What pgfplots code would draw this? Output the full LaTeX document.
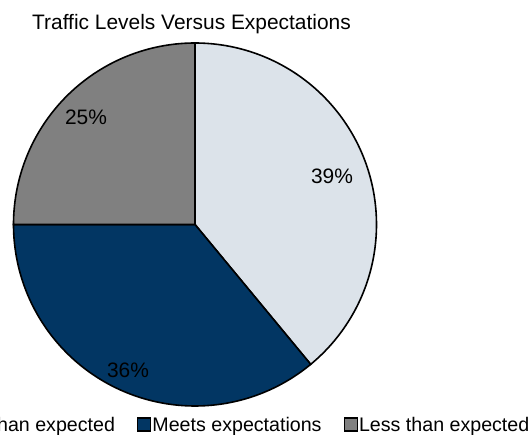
\documentclass[border=0pt]{standalone}
\usepackage{pgfplots}
\usepackage{pgfplotstable}
\pgfplotsset{compat=1.18}
\usepackage{fontspec}
\setmainfont{Liberation Sans}
\definecolor{cMore}{HTML}{DCE3EA}
\definecolor{cMeets}{HTML}{023663}
\definecolor{cLess}{HTML}{808080}
\pgfplotstableread{
label value
More 39
Meets 36
Less 25
}\piedata
\pgfplotstablegetelem{0}{value}\of\piedata \let\vA\pgfplotsretval
\pgfplotstablegetelem{1}{value}\of\piedata \let\vB\pgfplotsretval
\pgfplotstablegetelem{2}{value}\of\piedata \let\vC\pgfplotsretval
\pgfmathsetmacro{\aA}{90}
\pgfmathsetmacro{\aB}{\aA-3.6*\vA}
\pgfmathsetmacro{\aC}{\aB-3.6*\vB}
\pgfmathsetmacro{\aD}{\aC-3.6*\vC}
\begin{document}
\begin{tikzpicture}
\begin{axis}[
  width=531bp, height=435bp, scale only axis,
  xmin=0, xmax=531, ymin=0, ymax=435,
  hide axis, clip=false,
  legend columns=3,
  legend style={draw=none, fill=none, inner sep=0pt, at={(axis cs:530.5,10)}, anchor=east,
    font=\fontsize{19.7}{22}\selectfont, nodes={inner xsep=1bp, inner ysep=0pt},
    /tikz/every even column/.append style={column sep=21bp}},
  legend image code/.code={\draw[#1, line width=1.5bp] (0bp,-6bp) rectangle (13bp,7bp);},
]
\addplot[fill=cMore, draw=black, line width=1.6bp, domain=\aB:\aA, samples=120, variable=\t, forget plot]
  ({195+181.5*cos(\t)}, {210.5+181.5*sin(\t)}) -- (axis cs:195,210.5) -- cycle;
\addplot[fill=cMeets, draw=black, line width=1.6bp, domain=\aC:\aB, samples=120, variable=\t, forget plot]
  ({195+181.5*cos(\t)}, {210.5+181.5*sin(\t)}) -- (axis cs:195,210.5) -- cycle;
\addplot[fill=cLess, draw=black, line width=1.6bp, domain=\aD:\aC, samples=120, variable=\t, forget plot]
  ({195+181.5*cos(\t)}, {210.5+181.5*sin(\t)}) -- (axis cs:195,210.5) -- cycle;
\addlegendimage{fill=cMore, draw=black}
\addlegendentry{More than expected}
\addlegendimage{fill=cMeets, draw=black}
\addlegendentry{Meets expectations}
\addlegendimage{fill=cLess, draw=black}
\addlegendentry{Less than expected}
\node[font=\fontsize{21}{24}\selectfont, text=black] at (axis cs:332,258.5) {\vA\%};
\node[font=\fontsize{21}{24}\selectfont, text=black] at (axis cs:128,65) {\vB\%};
\node[font=\fontsize{21}{24}\selectfont, text=black] at (axis cs:86,317.5) {\vC\%};
\node[font=\fontsize{21}{24}\selectfont, anchor=base west, inner sep=0pt] at (axis cs:32,405) {Traffic Levels Versus Expectations};
\end{axis}
\pgfresetboundingbox
\path[use as bounding box] (0,0) rectangle (531bp,435bp);
\end{tikzpicture}
\end{document}
